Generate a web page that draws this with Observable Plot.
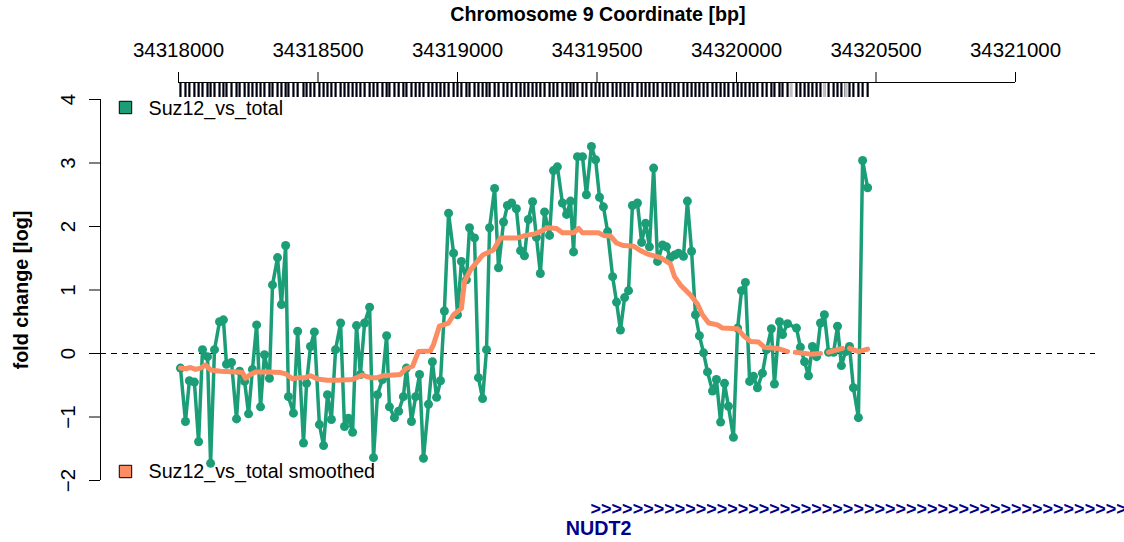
<!DOCTYPE html>
<html><head><meta charset="utf-8">
<script src="https://cdn.jsdelivr.net/npm/d3@7"></script>
<script src="https://cdn.jsdelivr.net/npm/@observablehq/plot@0.6"></script>
<style>html,body{margin:0;padding:0;background:#fff;overflow:hidden}</style>
</head><body><div id="chart"></div>
<script>
// ---- data ----
const positions = [34318007, 34318025, 34318039, 34318057, 34318072, 34318086, 34318104, 34318115, 34318129, 34318147,
  34318161, 34318172, 34318190, 34318208, 34318219, 34318237, 34318251, 34318265, 34318280, 34318294,
  34318308, 34318326, 34318337, 34318355, 34318369, 34318384, 34318394, 34318412, 34318427, 34318448,
  34318459, 34318473, 34318487, 34318505, 34318520, 34318534, 34318548, 34318563, 34318581, 34318595,
  34318609, 34318624, 34318638, 34318652, 34318667, 34318685, 34318699, 34318713, 34318731, 34318746,
  34318756, 34318774, 34318789, 34318806, 34318817, 34318835,
  34318850, 34318864, 34318878, 34318896, 34318910, 34318925, 34318939, 34318953, 34318968, 34318986,
  34319000, 34319014, 34319032, 34319043, 34319061, 34319075, 34319090, 34319104, 34319115, 34319133,
  34319147, 34319165, 34319179, 34319194, 34319211, 34319226, 34319240, 34319254, 34319269, 34319283,
  34319297, 34319312, 34319330, 34319344, 34319358, 34319376, 34319391, 34319405, 34319416, 34319430,
  34319448, 34319462, 34319480, 34319495, 34319509, 34319523, 34319538, 34319556, 34319570, 34319584,
  34319599, 34319613, 34319627, 34319645, 34319660, 34319674, 34319688, 34319703, 34319717, 34319735,
  34319749, 34319763, 34319778, 34319792, 34319810, 34319824, 34319839, 34319853, 34319867, 34319882,
  34319896, 34319914, 34319928, 34319943, 34319957, 34319971, 34319989, 34320004, 34320018, 34320032,
  34320047, 34320061, 34320075, 34320093, 34320108, 34320125, 34320136, 34320154, 34320165, 34320183,
  34320215, 34320229, 34320244, 34320258, 34320272, 34320287, 34320301, 34320315, 34320330, 34320348,
  34320362, 34320376, 34320391, 34320405, 34320419, 34320437, 34320452, 34320470];

const foldChange = [-0.23, -1.07, -0.43, -0.45, -1.39, 0.06, -0.05, -1.73, 0.06, 0.50,
  0.53, -0.17, -0.14, -1.03, -0.28, -0.44, -0.95, -0.25, 0.45, -0.84,
  -0.02, -0.39, 1.08, 1.51, 0.77, 1.70, -0.68, -0.94, 0.35, -1.41,
  -0.47, 0.11, 0.34, -1.12, -1.45, -0.65, -1.04, 0.06, 0.48, -1.15,
  -1.02, -1.24, 0.44, -0.33, 0.48, 0.73, -1.64, -0.65, -0.41, 0.28,
  -0.84, -1.01, -0.91, -0.68, -0.23, -1.07,
  -0.68, -0.33, -1.65, -0.80, -0.13, -0.69, -0.43, 0.67, 2.21, 1.58,
  0.61, 1.45, 1.16, 1.98, 1.82, -0.38, -0.71, 0.06, 1.98, 2.60,
  1.35, 2.07, 2.33, 2.37, 2.28, 1.62, 1.54, 2.11, 2.39, 1.83,
  1.26, 2.23, 1.86, 2.88, 2.94, 2.37, 2.19, 2.40, 1.60, 3.10,
  3.10, 2.50, 3.26, 3.05, 2.46, 2.31, 1.92, 1.21, 0.81, 0.37,
  0.88, 0.99, 2.33, 2.37, 1.75, 2.05, 1.68, 2.92, 1.45, 1.71,
  1.68, 1.51, 1.55, 1.58, 1.53, 2.40, 1.61, 0.61, 0.28, 0.01,
  -0.29, -0.59, -0.41, -1.08, -0.47, -0.83, -1.32, 0.40, 0.99, 1.12,
  -0.44, -0.36, -0.54, -0.31, 0.06, 0.39, -0.48, 0.50, 0.30, 0.47,
  0.40, 0.10, -0.13, -0.35, 0.11, -0.05, 0.48, 0.61, 0.02, 0.02,
  0.43, -0.19, 0.03, 0.11, -0.54, -1.01, 3.04, 2.61];

const smoothPositions = [34318007, 34318025, 34318043, 34318061, 34318079, 34318097, 34318115, 34318151, 34318211, 34318229,
  34318240, 34318258, 34318276, 34318319, 34318366, 34318384, 34318409, 34318430, 34318455, 34318473,
  34318498, 34318534, 34318570, 34318624, 34318659, 34318688, 34318713, 34318735, 34318796, 34318814,
  34318839, 34318860, 34318903, 34318914, 34318935, 34318968, 34318986, 34319014, 34319025, 34319047,
  34319090, 34319129, 34319154, 34319215, 34319244, 34319272, 34319297, 34319323, 34319355, 34319376,
  34319416, 34319434, 34319448, 34319505, 34319523, 34319548, 34319570, 34319595, 34319631, 34319656,
  34319685, 34319728, 34319763, 34319778, 34319799, 34319835, 34319860, 34319878, 34319900, 34319932,
  34319950, 34320004, 34320025, 34320050, 34320079, 34320100, 34320147, 34320183, 34320196, 34320211,
  34320265, 34320301, 34320315, 34320330, 34320362, 34320380, 34320393, 34320405, 34320437, 34320470];

const smoothValues = [-0.23, -0.24, -0.22, -0.25, -0.23, -0.18, -0.26, -0.28, -0.29, -0.30,
  -0.39, -0.33, -0.29, -0.29, -0.30, -0.32, -0.40, -0.38, -0.38, -0.35,
  -0.40, -0.42, -0.42, -0.41, -0.34, -0.38, -0.38, -0.35, -0.33, -0.24,
  -0.20, 0.03, 0.04, 0.14, 0.43, 0.48, 0.61, 0.71, 1.13, 1.32,
  1.55, 1.63, 1.82, 1.82, 1.86, 1.88, 1.92, 1.98, 1.97, 1.90,
  1.90, 1.97, 1.90, 1.90, 1.86, 1.85, 1.74, 1.70, 1.69, 1.62,
  1.56, 1.51, 1.41, 1.21, 1.08, 0.92, 0.78, 0.61, 0.48, 0.45,
  0.40, 0.39, 0.28, 0.19, 0.18, 0.10, 0.08, 0.03, null, 0.02,
  -0.01, 0.00, null, 0.02, 0.06, 0.08, null, 0.08, 0.03, 0.07];

const naProbes = [34320196, 34320315, 34320393];
const xTicks = [34318000, 34318500, 34319000, 34319500, 34320000, 34320500, 34321000];
const yTicks = [-2, -1, 0, 1, 2, 3, 4];
const seriesNames = ["Suz12_vs_total", "Suz12_vs_total smoothed"];
const seriesColors = ["#1B9E77", "#FC8D62"];
const geneName = "NUDT2";
const geneStart = 34319477;
const xTitle = "Chromosome 9 Coordinate [bp]";
const yTitle = "fold change [log]";

// ---- layout ----
const W = 1124, H = 542;
const xOpts = {domain: [34318000, 34321000], range: [178, 1015]};
const yOpts = {domain: [-2, 4], range: [480, 99]};
const xs = Plot.scale({x: xOpts});
const ys = Plot.scale({y: yOpts});
const FONT = "'Liberation Sans', Arial, Helvetica, sans-serif";
const FS = 19.7;
const FT = 20.5;
const navy = "#00008B";

const raw = positions.map((p, i) => ({pos: p, fc: foldChange[i]}));
const smooth = smoothPositions.map((p, i) => ({pos: p, fc: smoothValues[i]}));
const fmtY = d => d < 0 ? "\u2212" + Math.abs(d) : String(d);

const plot = Plot.plot({
  width: W, height: H,
  marginTop: 99, marginBottom: 62, marginLeft: 100, marginRight: 29,
  x: {...xOpts, axis: null},
  y: {...yOpts, axis: null},
  style: {fontFamily: FONT, fontSize: FS + "px", background: "white", overflow: "hidden"},
  marks: [
    // zero reference line
    Plot.ruleY([0], {stroke: "#000", strokeWidth: 1, strokeDasharray: "6,5"}),
    // y axis
    Plot.ruleX([xs.invert(100)], {stroke: "#000", strokeWidth: 1}),
    Plot.ruleY(yTicks, {x1: xs.invert(89), x2: xs.invert(100), stroke: "#000", strokeWidth: 1}),
    Plot.text(yTicks, {y: d => d, text: fmtY, frameAnchor: "left", dx: -32, rotate: -90, textAnchor: "middle", lineAnchor: "middle", fontSize: FT, fill: "#000"}),
    Plot.text([yTitle], {frameAnchor: "left", dx: -79, rotate: -90, textAnchor: "middle", lineAnchor: "middle", fontWeight: "bold", fontSize: FS, fill: "#000"}),
    // top genomic axis
    Plot.ruleY([ys.invert(82)], {x1: xTicks[0], x2: xTicks[xTicks.length - 1], stroke: "#000", strokeWidth: 1}),
    Plot.ruleX(xTicks, {y1: ys.invert(82), y2: ys.invert(72), stroke: "#000", strokeWidth: 1}),
    Plot.text(xTicks, {x: d => d, text: d => String(d), frameAnchor: "top", dy: -49, textAnchor: "middle", lineAnchor: "middle", fontSize: FT, fill: "#000"}),
    Plot.text([xTitle], {frameAnchor: "top", dy: -85, textAnchor: "middle", lineAnchor: "middle", fontWeight: "bold", fontSize: FS, fill: "#000"}),
    // probe rug
    Plot.ruleX(positions, {y1: ys.invert(83), y2: ys.invert(97), stroke: "#000010", strokeWidth: 2.2}),
    Plot.ruleX(naProbes, {y1: ys.invert(83), y2: ys.invert(97), stroke: "#c0c0c0", strokeWidth: 3}),
    // raw series
    Plot.line(raw, {x: "pos", y: "fc", stroke: seriesColors[0], strokeWidth: 3.5}),
    Plot.dot(raw, {x: "pos", y: "fc", r: 4.5, fill: seriesColors[0], stroke: "none"}),
    // smoothed series
    Plot.line(smooth, {x: "pos", y: "fc", stroke: seriesColors[1], strokeWidth: 5}),
    // legends
    Plot.dot([seriesNames[0]], {frameAnchor: "top-left", dx: 25, dy: 8, symbol: "square", r: 7, fill: seriesColors[0], stroke: "#000", strokeWidth: 1}),
    Plot.text([seriesNames[0]], {frameAnchor: "top-left", dx: 48, dy: 9, textAnchor: "start", lineAnchor: "middle", fontSize: FS, fill: "#000"}),
    Plot.dot([seriesNames[1]], {frameAnchor: "bottom-left", dx: 25, dy: -9, symbol: "square", r: 7, fill: seriesColors[1], stroke: "#000", strokeWidth: 1}),
    Plot.text([seriesNames[1]], {frameAnchor: "bottom-left", dx: 48, dy: -9, textAnchor: "start", lineAnchor: "middle", fontSize: FS, fill: "#000"}),
    // gene track
    Plot.text([geneName], {x: geneStart, y: ys.invert(509), text: () => ">".repeat(72), textAnchor: "start", lineAnchor: "middle", fontWeight: "bold", fontSize: 18, fill: navy, ariaLabel: "gene arrows"}),
    Plot.text([geneName], {x: geneStart, y: ys.invert(528), dx: 8, text: d => d, textAnchor: "middle", lineAnchor: "middle", fontWeight: "bold", fontSize: FS, fill: navy})
  ]
});
plot.querySelectorAll('g[aria-label="gene arrows"] text').forEach(t => t.setAttribute("letter-spacing", "-3.15"));
document.getElementById("chart").appendChild(plot);
</script>
</body></html>
